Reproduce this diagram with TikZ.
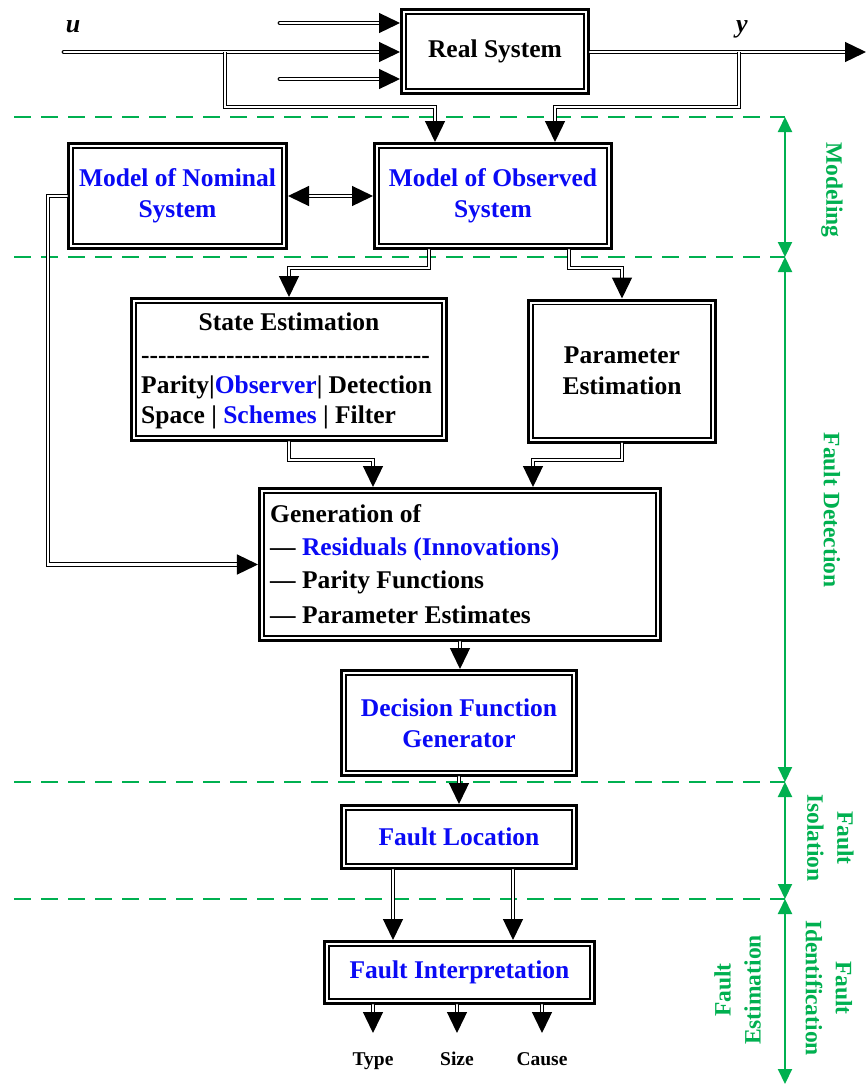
\documentclass[tikz,border=0pt]{standalone}
\usepackage{fontspec}
\setmainfont{Liberation Serif}
\usetikzlibrary{arrows.meta}
\definecolor{mblue}{RGB}{10,10,245}
\definecolor{mgreen}{RGB}{0,176,80}
\newcommand\myhy{\mbox{-}}
\newcommand\bx{\fontsize{25.5bp}{31bp}\selectfont\bfseries}
\newcommand\gx{\fontsize{23.5bp}{30bp}\selectfont\bfseries}
\newcommand\sx{\fontsize{19.5bp}{23bp}\selectfont\bfseries}
\newcommand\innerbox[1]{\draw[line width=1.7bp] ([shift={(5.85,5.85)}]#1.north west) rectangle ([shift={(-5.85,-5.85)}]#1.south east);}
\begin{document}
\begin{tikzpicture}[x=1bp,y=-1bp,
 box/.style={draw, line width=3bp, fill=white, inner sep=0pt, align=center, font=\bx},
 conn/.style={draw, line width=1.3bp, double=white, double distance=2.2bp, line cap=round},
 arr/.style={conn, -{Triangle[length=21bp,width=20bp]}},
 darr/.style={conn, {Triangle[length=21bp,width=20bp]}-{Triangle[length=21bp,width=20bp]}},
 sep/.style={mgreen, line width=2bp, dash pattern=on 17bp off 10bp},
 garr/.style={mgreen, line width=2bp, {Triangle[length=15bp,width=14bp]}-{Triangle[length=15bp,width=14bp]}},
 glab/.style={text=mgreen, font=\gx, align=center},
 txt/.style={font=\bx, inner sep=0pt},
]
\fill[white] (0,0) rectangle (867,1085);
\useasboundingbox (0,0) rectangle (867,1085);

% green section separators
\coordinate (d0) at (14,117);
\coordinate (d1) at (14,257);
\coordinate (d2) at (14,782);
\coordinate (d3) at (14,899);
\coordinate (g0) at (785,117);
\coordinate (g1) at (785,257);
\coordinate (g2) at (785,782);
\coordinate (g3) at (785,899);
\coordinate (g4) at (785,1084);
\draw[sep] (d0) -- (g0);
\draw[sep] (d1) -- (g1);
\draw[sep] (d2) -- (g2);
\draw[sep] (d3) -- (g3);
\draw[garr] (g0) -- (g1);
\draw[garr] (g1) -- (g2);
\draw[garr] (g2) -- (g3);
\draw[garr] (g3) -- (g4);

\node[glab, rotate=-90] (lm) at (832,190) {Modeling};
\node[glab, rotate=-90] (lfd) at (832,510) {Fault Detection};
\node[glab, rotate=-90] (lfi) at (830.5,838) {Fault\\Isolation};
\node[glab, rotate=-90] (lfid) at (829,988) {Fault\\Identification};
\node[glab, rotate=90] (lfe) at (737.5,990) {Fault\\Estimation};

% boxes
\node[box, minimum width=187bp, minimum height=84bp] (rs) at (495,51.5) {Real System};
\node[box, text=mblue, minimum width=218bp, minimum height=105bp] (mn) at (177.5,196) {Model of Nominal\\System};
\node[box, text=mblue, minimum width=237bp, minimum height=105bp] (mo) at (493,196) {Model of Observed\\System};
\node[box, minimum width=315bp, minimum height=142bp] (se) at (289,369.5) {};
\node[box, minimum width=187bp, minimum height=142bp] (pe) at (622,371) {Parameter\\Estimation};
\node[box, minimum width=401bp, minimum height=152bp] (gen) at (460,564.5) {};
\node[box, text=mblue, minimum width=235bp, minimum height=105bp] (dfg) at (459,723) {Decision Function\\Generator};
\node[box, text=mblue, minimum width=235bp, minimum height=63bp] (fl) at (459,837) {Fault Location};
\node[box, text=mblue, minimum width=270bp, minimum height=62bp] (fi) at (459.5,972.5) {Fault Interpretation};
\foreach \n in {rs,mn,mo,se,pe,gen,dfg,fl,fi} {\innerbox{\n}}

% texts inside State Estimation
\node[txt, anchor=base] (se1) at (289,330) {State Estimation};
\node[txt, anchor=base west] (se2) at (141,363) {\myhy\myhy\myhy\myhy\myhy\myhy\myhy\myhy\myhy\myhy\myhy\myhy\myhy\myhy\myhy\myhy\myhy\myhy\myhy\myhy\myhy\myhy\myhy\myhy\myhy\myhy\myhy\myhy\myhy\myhy\myhy\myhy\myhy\myhy};
\node[txt, anchor=base west] (se3) at (141,393) {Parity|{\color{mblue}Observer}| Detection};
\node[txt, anchor=base west] (se4) at (141,423) {Space | {\color{mblue}Schemes} | Filter};

% texts inside Generation box
\node[txt, anchor=base west] (ge1) at (270,522) {Generation of};
\node[txt, anchor=base west] (ge2) at (270,555) {— {\color{mblue}Residuals (Innovations)}};
\node[txt, anchor=base west] (ge3) at (270,588) {— Parity Functions};
\node[txt, anchor=base west] (ge4) at (270,623) {— Parameter Estimates};

% u, y labels
\node[font=\fontsize{26bp}{30bp}\selectfont\bfseries\itshape, anchor=base] (ul) at (73,32) {u};
\node[font=\fontsize{26bp}{30bp}\selectfont\bfseries\itshape, anchor=base] (yl) at (742,32) {y};

% output labels
\node[font=\sx, anchor=base] (ty) at (373,1065) {Type};
\node[font=\sx, anchor=base] (sz) at (457,1065) {Size};
\node[font=\sx, anchor=base] (ca) at (542,1065) {Cause};

% connectors
\coordinate (uin) at (64,52);
\coordinate (in1) at (280,23);
\coordinate (in3) at (280,79);
\coordinate (yout) at (866,52);
\draw[arr] (uin) -- (uin -| rs.west);
\draw[arr] (in1) -- (in1 -| rs.west);
\draw[arr] (in3) -- (in3 -| rs.west);
\draw[arr] (rs.east |- yout) -- (yout);

\coordinate (bl) at (225,52);
\coordinate (bl2) at (435,107);
\draw[arr, line cap=butt] (bl) |- (bl2) -- (bl2 |- mo.north);
\coordinate (br) at (739,52);
\coordinate (br2) at (555,107);
\draw[arr, line cap=butt] (br) |- (br2) -- (br2 |- mo.north);

\draw[darr] (mn.east) -- (mo.west);
\coordinate (fb) at (48,196);
\draw[arr] (mn.west) -- (fb) |- (gen.west);

\coordinate (k1) at (429,268);
\draw[arr] (k1 |- mo.south) -- (k1) -| (se.north);
\coordinate (k2) at (569,268);
\draw[arr] (k2 |- mo.south) -- (k2) -| (pe.north);
\coordinate (k3) at (373,460);
\draw[arr] (se.south) |- (k3) -- (k3 |- gen.north);
\coordinate (k4) at (533,460);
\draw[arr] (pe.south) |- (k4) -- (k4 |- gen.north);

\draw[arr] (gen.south) -- (gen.south |- dfg.north);
\draw[arr] (dfg.south) -- (fl.north);

\coordinate (f1) at (393,0);
\coordinate (f2) at (513,0);
\draw[arr] (f1 |- fl.south) -- (f1 |- fi.north);
\draw[arr] (f2 |- fl.south) -- (f2 |- fi.north);

\coordinate (o1) at (373,1033);
\coordinate (o2) at (457,1033);
\coordinate (o3) at (542,1033);
\draw[arr] (o1 |- fi.south) -- (o1);
\draw[arr] (o2 |- fi.south) -- (o2);
\draw[arr] (o3 |- fi.south) -- (o3);
\end{tikzpicture}
\end{document}
